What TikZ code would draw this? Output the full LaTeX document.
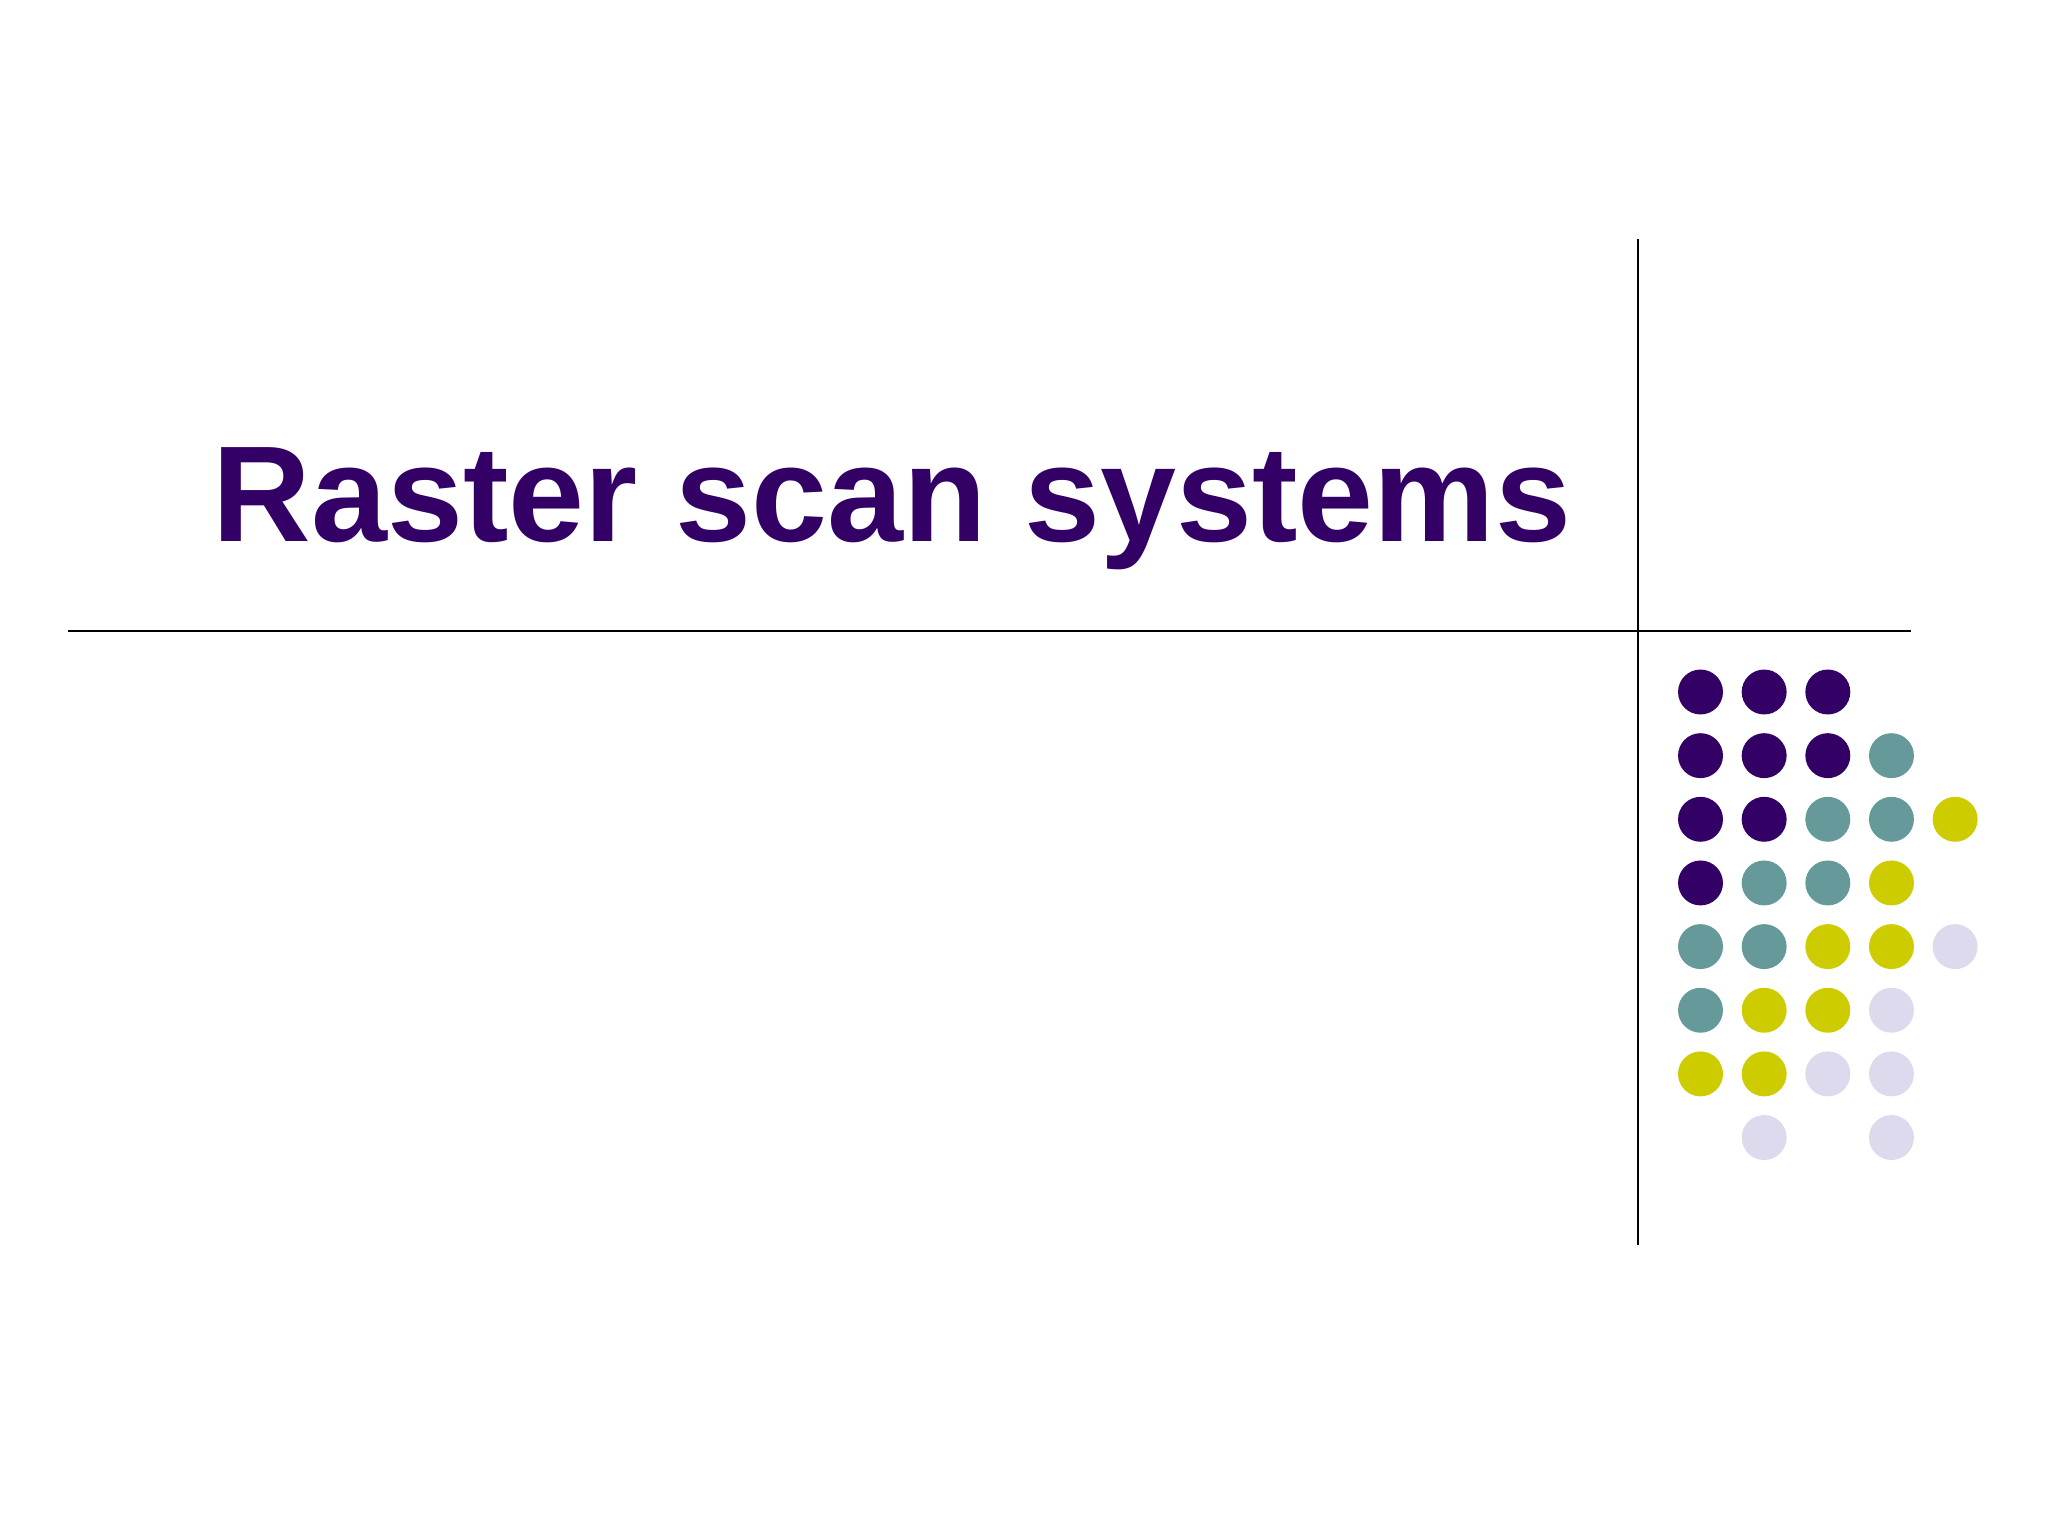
\documentclass[tikz,border=0pt]{standalone}
\usepackage{fontspec}
\setmainfont{Liberation Sans}
\definecolor{titlepurple}{HTML}{330066}
\definecolor{dotteal}{HTML}{669999}
\definecolor{dotlime}{HTML}{CCCC00}
\definecolor{dotlilac}{HTML}{DCDAEC}
\tikzset{
  rule/.style={line width=0.6pt, black},
  dot/.style={circle, inner sep=0pt, minimum size=15.8pt, draw=none},
}
\begin{document}
\begin{tikzpicture}[x=0.3515625pt, y=-0.3515625pt]
\useasboundingbox (0, 0) rectangle (2048, 1536);
\path (1638, 239) coordinate (vtop) (1638, 1245) coordinate (vbot);
\path (68, 631) coordinate (hleft) (1911, 631) coordinate (hright);
\draw [rule] (vtop) -- (vbot);
\draw [rule] (hleft) -- (hright);
\node [anchor=base, inner sep=0pt, text=titlepurple, font=\fontsize{48}{58}\selectfont\bfseries] (title) at (892, 542) {Raster scan systems};
% dots, column/row
\foreach \c/\r in {1/1,2/1,3/1,1/2,2/2,3/2,1/3,2/3,1/4}
  \node [dot, fill=titlepurple] (p\c\r) at ({1700.5+(\c-1)*63.65}, {692+(\r-1)*63.65}) {};
\foreach \c/\r in {4/2,3/3,4/3,2/4,3/4,1/5,2/5,1/6}
  \node [dot, fill=dotteal] (t\c\r) at ({1700.5+(\c-1)*63.65}, {692+(\r-1)*63.65}) {};
\foreach \c/\r in {5/3,4/4,3/5,4/5,2/6,3/6,1/7,2/7}
  \node [dot, fill=dotlime] (y\c\r) at ({1700.5+(\c-1)*63.65}, {692+(\r-1)*63.65}) {};
\foreach \c/\r in {5/5,4/6,3/7,4/7,2/8,4/8}
  \node [dot, fill=dotlilac] (l\c\r) at ({1700.5+(\c-1)*63.65}, {692+(\r-1)*63.65}) {};
\end{tikzpicture}
\end{document}
